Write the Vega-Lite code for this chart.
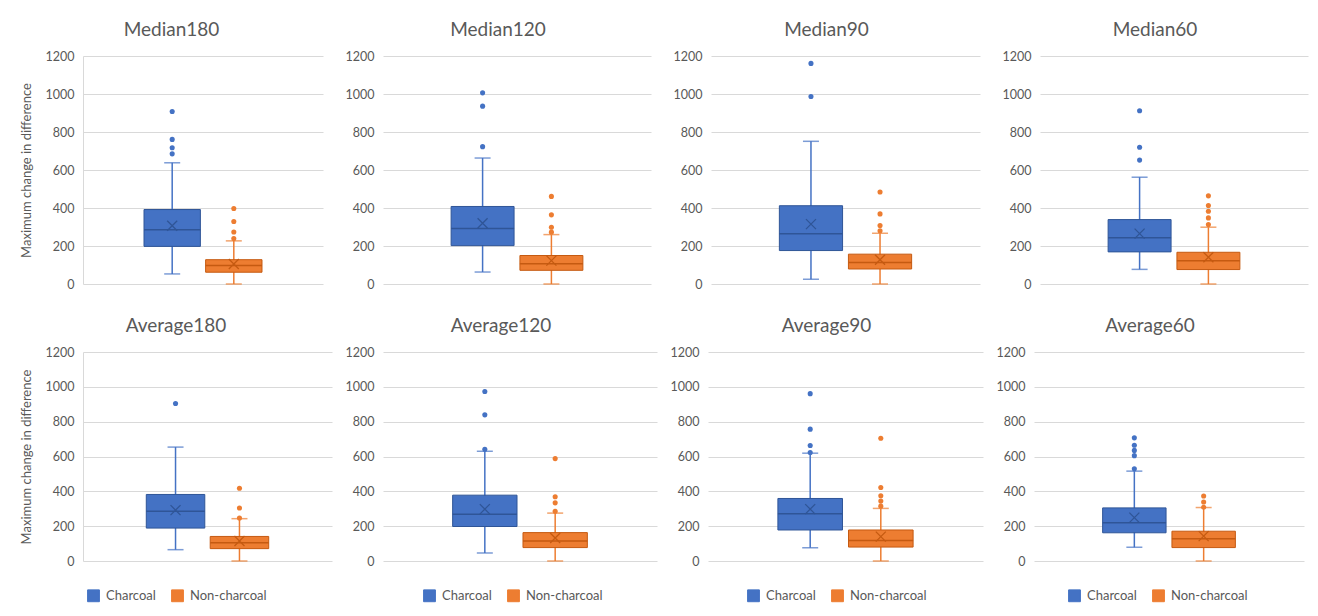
{
  "$schema": "https://vega.github.io/schema/vega-lite/v6.json",
  "background": "white",
  "padding": {"left": 20, "top": 21, "right": 5, "bottom": 5},
  "datasets": {
    "boxes": [
      {"panel": "Median180", "group": "Charcoal", "lower": 53, "q1": 198, "median": 286, "q3": 392, "upper": 638, "mean": 307},
      {"panel": "Median180", "group": "Non-charcoal", "lower": 0, "q1": 62, "median": 97, "q3": 128, "upper": 227, "mean": 105},
      {"panel": "Median120", "group": "Charcoal", "lower": 63, "q1": 202, "median": 292, "q3": 408, "upper": 663, "mean": 320},
      {"panel": "Median120", "group": "Non-charcoal", "lower": 0, "q1": 72, "median": 107, "q3": 150, "upper": 260, "mean": 123},
      {"panel": "Median90", "group": "Charcoal", "lower": 25, "q1": 176, "median": 264, "q3": 412, "upper": 751, "mean": 315},
      {"panel": "Median90", "group": "Non-charcoal", "lower": 0, "q1": 79, "median": 113, "q3": 157, "upper": 267, "mean": 128},
      {"panel": "Median60", "group": "Charcoal", "lower": 77, "q1": 169, "median": 244, "q3": 339, "upper": 562, "mean": 265},
      {"panel": "Median60", "group": "Non-charcoal", "lower": 0, "q1": 76, "median": 123, "q3": 167, "upper": 299, "mean": 141},
      {"panel": "Average180", "group": "Charcoal", "lower": 65, "q1": 189, "median": 285, "q3": 382, "upper": 654, "mean": 292},
      {"panel": "Average180", "group": "Non-charcoal", "lower": 0, "q1": 71, "median": 105, "q3": 141, "upper": 243, "mean": 115},
      {"panel": "Average120", "group": "Charcoal", "lower": 46, "q1": 198, "median": 269, "q3": 378, "upper": 630, "mean": 298},
      {"panel": "Average120", "group": "Non-charcoal", "lower": 0, "q1": 77, "median": 115, "q3": 163, "upper": 275, "mean": 132},
      {"panel": "Average90", "group": "Charcoal", "lower": 76, "q1": 178, "median": 271, "q3": 359, "upper": 619, "mean": 298},
      {"panel": "Average90", "group": "Non-charcoal", "lower": 0, "q1": 80, "median": 117, "q3": 178, "upper": 302, "mean": 140},
      {"panel": "Average60", "group": "Charcoal", "lower": 79, "q1": 162, "median": 220, "q3": 305, "upper": 516, "mean": 249},
      {"panel": "Average60", "group": "Non-charcoal", "lower": 0, "q1": 77, "median": 128, "q3": 171, "upper": 307, "mean": 143}
    ],
    "outliers": [
      {"panel": "Median180", "group": "Charcoal", "value": 908},
      {"panel": "Median180", "group": "Charcoal", "value": 761},
      {"panel": "Median180", "group": "Charcoal", "value": 717},
      {"panel": "Median180", "group": "Charcoal", "value": 685},
      {"panel": "Median180", "group": "Non-charcoal", "value": 397},
      {"panel": "Median180", "group": "Non-charcoal", "value": 329},
      {"panel": "Median180", "group": "Non-charcoal", "value": 274},
      {"panel": "Median180", "group": "Non-charcoal", "value": 239},
      {"panel": "Median120", "group": "Charcoal", "value": 1006},
      {"panel": "Median120", "group": "Charcoal", "value": 936},
      {"panel": "Median120", "group": "Charcoal", "value": 723},
      {"panel": "Median120", "group": "Non-charcoal", "value": 461},
      {"panel": "Median120", "group": "Non-charcoal", "value": 364},
      {"panel": "Median120", "group": "Non-charcoal", "value": 299},
      {"panel": "Median120", "group": "Non-charcoal", "value": 273},
      {"panel": "Median90", "group": "Charcoal", "value": 1161},
      {"panel": "Median90", "group": "Charcoal", "value": 987},
      {"panel": "Median90", "group": "Non-charcoal", "value": 484},
      {"panel": "Median90", "group": "Non-charcoal", "value": 369},
      {"panel": "Median90", "group": "Non-charcoal", "value": 308},
      {"panel": "Median90", "group": "Non-charcoal", "value": 280},
      {"panel": "Median60", "group": "Charcoal", "value": 912},
      {"panel": "Median60", "group": "Charcoal", "value": 720},
      {"panel": "Median60", "group": "Charcoal", "value": 652},
      {"panel": "Median60", "group": "Non-charcoal", "value": 464},
      {"panel": "Median60", "group": "Non-charcoal", "value": 413},
      {"panel": "Median60", "group": "Non-charcoal", "value": 383},
      {"panel": "Median60", "group": "Non-charcoal", "value": 348},
      {"panel": "Median60", "group": "Non-charcoal", "value": 313},
      {"panel": "Average180", "group": "Charcoal", "value": 904},
      {"panel": "Average180", "group": "Non-charcoal", "value": 418},
      {"panel": "Average180", "group": "Non-charcoal", "value": 304},
      {"panel": "Average180", "group": "Non-charcoal", "value": 247},
      {"panel": "Average120", "group": "Charcoal", "value": 973},
      {"panel": "Average120", "group": "Charcoal", "value": 839},
      {"panel": "Average120", "group": "Charcoal", "value": 641},
      {"panel": "Average120", "group": "Non-charcoal", "value": 588},
      {"panel": "Average120", "group": "Non-charcoal", "value": 369},
      {"panel": "Average120", "group": "Non-charcoal", "value": 334},
      {"panel": "Average120", "group": "Non-charcoal", "value": 286},
      {"panel": "Average90", "group": "Charcoal", "value": 961},
      {"panel": "Average90", "group": "Charcoal", "value": 757},
      {"panel": "Average90", "group": "Charcoal", "value": 663},
      {"panel": "Average90", "group": "Charcoal", "value": 623},
      {"panel": "Average90", "group": "Non-charcoal", "value": 705},
      {"panel": "Average90", "group": "Non-charcoal", "value": 422},
      {"panel": "Average90", "group": "Non-charcoal", "value": 375},
      {"panel": "Average90", "group": "Non-charcoal", "value": 344},
      {"panel": "Average90", "group": "Non-charcoal", "value": 315},
      {"panel": "Average60", "group": "Charcoal", "value": 707},
      {"panel": "Average60", "group": "Charcoal", "value": 665},
      {"panel": "Average60", "group": "Charcoal", "value": 635},
      {"panel": "Average60", "group": "Charcoal", "value": 605},
      {"panel": "Average60", "group": "Charcoal", "value": 529},
      {"panel": "Average60", "group": "Non-charcoal", "value": 373},
      {"panel": "Average60", "group": "Non-charcoal", "value": 339},
      {"panel": "Average60", "group": "Non-charcoal", "value": 309}
    ]
  },
  "resolve": {"scale": {"color": "independent", "fill": "independent", "stroke": "independent"}, "legend": {"color": "independent", "fill": "independent", "stroke": "independent"}},
  "spacing": 26,
  "vconcat": [
    {
      "spacing": 22,
      "resolve": {"scale": {"color": "independent", "fill": "independent", "stroke": "independent"}, "legend": {"color": "independent", "fill": "independent", "stroke": "independent"}},
      "hconcat": [
        {
          "width": 240, "height": 228, "title": "Median180",
          "encoding": {"x": {"field": "group", "type": "nominal", "scale": {"domain": ["Charcoal", "Non-charcoal"], "paddingInner": 0.085, "paddingOuter": 0.99}, "axis": null}},
          "layer": [
            {"data": {"name": "boxes"}, "transform": [{"filter": "datum.panel === 'Median180'"}],
             "layer": [
              {"mark": {"type": "rule", "strokeWidth": 1.5}, "encoding": {"y": {"field": "lower", "type": "quantitative", "scale": {"domain": [0, 1200], "nice": false}, "axis": {"title": "Maximum change in difference", "values": [0, 200, 400, 600, 800, 1000, 1200], "format": "d", "labelOverlap": false, "domain": true, "domainColor": "#D9D9D9"}}, "y2": {"field": "upper"}, "color": {"field": "group", "type": "nominal", "scale": {"domain": ["Charcoal", "Non-charcoal"], "range": ["#4472C4", "#ED7D31"]}, "legend": null}}},
              {"mark": {"type": "tick", "size": 16, "thickness": 1.5}, "encoding": {"y": {"field": "lower", "type": "quantitative", "axis": {"values": [0, 200, 400, 600, 800, 1000, 1200], "format": "d", "labelOverlap": false}}, "color": {"field": "group", "type": "nominal", "legend": null}}},
              {"mark": {"type": "tick", "size": 16, "thickness": 1.5}, "encoding": {"y": {"field": "upper", "type": "quantitative", "axis": {"values": [0, 200, 400, 600, 800, 1000, 1200], "format": "d", "labelOverlap": false}}, "color": {"field": "group", "type": "nominal", "legend": null}}},
              {"mark": {"type": "bar", "strokeWidth": 1}, "encoding": {"y": {"field": "q1", "type": "quantitative", "axis": {"values": [0, 200, 400, 600, 800, 1000, 1200], "format": "d", "labelOverlap": false}}, "y2": {"field": "q3"}, "fill": {"field": "group", "type": "nominal", "scale": {"domain": ["Charcoal", "Non-charcoal"], "range": ["#4472C4", "#ED7D31"]}, "legend": null}, "stroke": {"field": "group", "type": "nominal", "scale": {"domain": ["Charcoal", "Non-charcoal"], "range": ["#2F5597", "#C55A11"]}, "legend": null}}},
              {"mark": {"type": "bar", "strokeWidth": 1.5, "fill": "transparent"}, "encoding": {"y": {"field": "median", "type": "quantitative", "axis": {"values": [0, 200, 400, 600, 800, 1000, 1200], "format": "d", "labelOverlap": false}}, "y2": {"field": "median"}, "stroke": {"field": "group", "type": "nominal", "legend": null}}},
              {"mark": {"type": "point", "shape": "M-1,-1L1,1M-1,1L1,-1", "size": 100, "strokeWidth": 1.3, "filled": false, "opacity": 1}, "encoding": {"y": {"field": "mean", "type": "quantitative", "axis": {"values": [0, 200, 400, 600, 800, 1000, 1200], "format": "d", "labelOverlap": false}}, "stroke": {"field": "group", "type": "nominal", "legend": null}}}
             ]},
            {"data": {"name": "outliers"}, "transform": [{"filter": "datum.panel === 'Median180'"}], "mark": {"type": "circle", "size": 26, "opacity": 1}, "encoding": {"y": {"field": "value", "type": "quantitative", "axis": {"values": [0, 200, 400, 600, 800, 1000, 1200], "format": "d", "labelOverlap": false}}, "color": {"field": "group", "type": "nominal", "legend": null}}}
          ]
        },
        {
          "width": 268, "height": 228, "title": "Median120",
          "encoding": {"x": {"field": "group", "type": "nominal", "scale": {"domain": ["Charcoal", "Non-charcoal"], "paddingInner": 0.085, "paddingOuter": 0.99}, "axis": null}},
          "layer": [
            {"data": {"name": "boxes"}, "transform": [{"filter": "datum.panel === 'Median120'"}],
             "layer": [
              {"mark": {"type": "rule", "strokeWidth": 1.5}, "encoding": {"y": {"field": "lower", "type": "quantitative", "scale": {"domain": [0, 1200], "nice": false}, "axis": {"title": null, "values": [0, 200, 400, 600, 800, 1000, 1200], "format": "d", "labelOverlap": false}}, "y2": {"field": "upper"}, "color": {"field": "group", "type": "nominal", "scale": {"domain": ["Charcoal", "Non-charcoal"], "range": ["#4472C4", "#ED7D31"]}, "legend": null}}},
              {"mark": {"type": "tick", "size": 16, "thickness": 1.5}, "encoding": {"y": {"field": "lower", "type": "quantitative", "axis": {"values": [0, 200, 400, 600, 800, 1000, 1200], "format": "d", "labelOverlap": false}}, "color": {"field": "group", "type": "nominal", "legend": null}}},
              {"mark": {"type": "tick", "size": 16, "thickness": 1.5}, "encoding": {"y": {"field": "upper", "type": "quantitative", "axis": {"values": [0, 200, 400, 600, 800, 1000, 1200], "format": "d", "labelOverlap": false}}, "color": {"field": "group", "type": "nominal", "legend": null}}},
              {"mark": {"type": "bar", "strokeWidth": 1}, "encoding": {"y": {"field": "q1", "type": "quantitative", "axis": {"values": [0, 200, 400, 600, 800, 1000, 1200], "format": "d", "labelOverlap": false}}, "y2": {"field": "q3"}, "fill": {"field": "group", "type": "nominal", "scale": {"domain": ["Charcoal", "Non-charcoal"], "range": ["#4472C4", "#ED7D31"]}, "legend": null}, "stroke": {"field": "group", "type": "nominal", "scale": {"domain": ["Charcoal", "Non-charcoal"], "range": ["#2F5597", "#C55A11"]}, "legend": null}}},
              {"mark": {"type": "bar", "strokeWidth": 1.5, "fill": "transparent"}, "encoding": {"y": {"field": "median", "type": "quantitative", "axis": {"values": [0, 200, 400, 600, 800, 1000, 1200], "format": "d", "labelOverlap": false}}, "y2": {"field": "median"}, "stroke": {"field": "group", "type": "nominal", "legend": null}}},
              {"mark": {"type": "point", "shape": "M-1,-1L1,1M-1,1L1,-1", "size": 100, "strokeWidth": 1.3, "filled": false, "opacity": 1}, "encoding": {"y": {"field": "mean", "type": "quantitative", "axis": {"values": [0, 200, 400, 600, 800, 1000, 1200], "format": "d", "labelOverlap": false}}, "stroke": {"field": "group", "type": "nominal", "legend": null}}}
             ]},
            {"data": {"name": "outliers"}, "transform": [{"filter": "datum.panel === 'Median120'"}], "mark": {"type": "circle", "size": 26, "opacity": 1}, "encoding": {"y": {"field": "value", "type": "quantitative", "axis": {"values": [0, 200, 400, 600, 800, 1000, 1200], "format": "d", "labelOverlap": false}}, "color": {"field": "group", "type": "nominal", "legend": null}}}
          ]
        },
        {
          "width": 269, "height": 228, "title": "Median90",
          "encoding": {"x": {"field": "group", "type": "nominal", "scale": {"domain": ["Charcoal", "Non-charcoal"], "paddingInner": 0.085, "paddingOuter": 0.99}, "axis": null}},
          "layer": [
            {"data": {"name": "boxes"}, "transform": [{"filter": "datum.panel === 'Median90'"}],
             "layer": [
              {"mark": {"type": "rule", "strokeWidth": 1.5}, "encoding": {"y": {"field": "lower", "type": "quantitative", "scale": {"domain": [0, 1200], "nice": false}, "axis": {"title": null, "values": [0, 200, 400, 600, 800, 1000, 1200], "format": "d", "labelOverlap": false}}, "y2": {"field": "upper"}, "color": {"field": "group", "type": "nominal", "scale": {"domain": ["Charcoal", "Non-charcoal"], "range": ["#4472C4", "#ED7D31"]}, "legend": null}}},
              {"mark": {"type": "tick", "size": 16, "thickness": 1.5}, "encoding": {"y": {"field": "lower", "type": "quantitative", "axis": {"values": [0, 200, 400, 600, 800, 1000, 1200], "format": "d", "labelOverlap": false}}, "color": {"field": "group", "type": "nominal", "legend": null}}},
              {"mark": {"type": "tick", "size": 16, "thickness": 1.5}, "encoding": {"y": {"field": "upper", "type": "quantitative", "axis": {"values": [0, 200, 400, 600, 800, 1000, 1200], "format": "d", "labelOverlap": false}}, "color": {"field": "group", "type": "nominal", "legend": null}}},
              {"mark": {"type": "bar", "strokeWidth": 1}, "encoding": {"y": {"field": "q1", "type": "quantitative", "axis": {"values": [0, 200, 400, 600, 800, 1000, 1200], "format": "d", "labelOverlap": false}}, "y2": {"field": "q3"}, "fill": {"field": "group", "type": "nominal", "scale": {"domain": ["Charcoal", "Non-charcoal"], "range": ["#4472C4", "#ED7D31"]}, "legend": null}, "stroke": {"field": "group", "type": "nominal", "scale": {"domain": ["Charcoal", "Non-charcoal"], "range": ["#2F5597", "#C55A11"]}, "legend": null}}},
              {"mark": {"type": "bar", "strokeWidth": 1.5, "fill": "transparent"}, "encoding": {"y": {"field": "median", "type": "quantitative", "axis": {"values": [0, 200, 400, 600, 800, 1000, 1200], "format": "d", "labelOverlap": false}}, "y2": {"field": "median"}, "stroke": {"field": "group", "type": "nominal", "legend": null}}},
              {"mark": {"type": "point", "shape": "M-1,-1L1,1M-1,1L1,-1", "size": 100, "strokeWidth": 1.3, "filled": false, "opacity": 1}, "encoding": {"y": {"field": "mean", "type": "quantitative", "axis": {"values": [0, 200, 400, 600, 800, 1000, 1200], "format": "d", "labelOverlap": false}}, "stroke": {"field": "group", "type": "nominal", "legend": null}}}
             ]},
            {"data": {"name": "outliers"}, "transform": [{"filter": "datum.panel === 'Median90'"}], "mark": {"type": "circle", "size": 26, "opacity": 1}, "encoding": {"y": {"field": "value", "type": "quantitative", "axis": {"values": [0, 200, 400, 600, 800, 1000, 1200], "format": "d", "labelOverlap": false}}, "color": {"field": "group", "type": "nominal", "legend": null}}}
          ]
        },
        {
          "width": 268, "height": 228, "title": "Median60",
          "encoding": {"x": {"field": "group", "type": "nominal", "scale": {"domain": ["Charcoal", "Non-charcoal"], "paddingInner": 0.085, "paddingOuter": 0.99}, "axis": null}},
          "layer": [
            {"data": {"name": "boxes"}, "transform": [{"filter": "datum.panel === 'Median60'"}],
             "layer": [
              {"mark": {"type": "rule", "strokeWidth": 1.5}, "encoding": {"y": {"field": "lower", "type": "quantitative", "scale": {"domain": [0, 1200], "nice": false}, "axis": {"title": null, "values": [0, 200, 400, 600, 800, 1000, 1200], "format": "d", "labelOverlap": false}}, "y2": {"field": "upper"}, "color": {"field": "group", "type": "nominal", "scale": {"domain": ["Charcoal", "Non-charcoal"], "range": ["#4472C4", "#ED7D31"]}, "legend": null}}},
              {"mark": {"type": "tick", "size": 16, "thickness": 1.5}, "encoding": {"y": {"field": "lower", "type": "quantitative", "axis": {"values": [0, 200, 400, 600, 800, 1000, 1200], "format": "d", "labelOverlap": false}}, "color": {"field": "group", "type": "nominal", "legend": null}}},
              {"mark": {"type": "tick", "size": 16, "thickness": 1.5}, "encoding": {"y": {"field": "upper", "type": "quantitative", "axis": {"values": [0, 200, 400, 600, 800, 1000, 1200], "format": "d", "labelOverlap": false}}, "color": {"field": "group", "type": "nominal", "legend": null}}},
              {"mark": {"type": "bar", "strokeWidth": 1}, "encoding": {"y": {"field": "q1", "type": "quantitative", "axis": {"values": [0, 200, 400, 600, 800, 1000, 1200], "format": "d", "labelOverlap": false}}, "y2": {"field": "q3"}, "fill": {"field": "group", "type": "nominal", "scale": {"domain": ["Charcoal", "Non-charcoal"], "range": ["#4472C4", "#ED7D31"]}, "legend": null}, "stroke": {"field": "group", "type": "nominal", "scale": {"domain": ["Charcoal", "Non-charcoal"], "range": ["#2F5597", "#C55A11"]}, "legend": null}}},
              {"mark": {"type": "bar", "strokeWidth": 1.5, "fill": "transparent"}, "encoding": {"y": {"field": "median", "type": "quantitative", "axis": {"values": [0, 200, 400, 600, 800, 1000, 1200], "format": "d", "labelOverlap": false}}, "y2": {"field": "median"}, "stroke": {"field": "group", "type": "nominal", "legend": null}}},
              {"mark": {"type": "point", "shape": "M-1,-1L1,1M-1,1L1,-1", "size": 100, "strokeWidth": 1.3, "filled": false, "opacity": 1}, "encoding": {"y": {"field": "mean", "type": "quantitative", "axis": {"values": [0, 200, 400, 600, 800, 1000, 1200], "format": "d", "labelOverlap": false}}, "stroke": {"field": "group", "type": "nominal", "legend": null}}}
             ]},
            {"data": {"name": "outliers"}, "transform": [{"filter": "datum.panel === 'Median60'"}], "mark": {"type": "circle", "size": 26, "opacity": 1}, "encoding": {"y": {"field": "value", "type": "quantitative", "axis": {"values": [0, 200, 400, 600, 800, 1000, 1200], "format": "d", "labelOverlap": false}}, "color": {"field": "group", "type": "nominal", "legend": null}}}
          ]
        }
      ]
    },
    {
      "spacing": 13,
      "resolve": {"scale": {"color": "independent", "fill": "independent", "stroke": "independent"}, "legend": {"color": "independent", "fill": "independent", "stroke": "independent"}},
      "hconcat": [
        {
          "width": 249, "height": 209, "title": "Average180",
          "encoding": {"x": {"field": "group", "type": "nominal", "scale": {"domain": ["Charcoal", "Non-charcoal"], "paddingInner": 0.085, "paddingOuter": 0.99}, "axis": null}},
          "layer": [
            {"data": {"name": "boxes"}, "transform": [{"filter": "datum.panel === 'Average180'"}],
             "layer": [
              {"mark": {"type": "rule", "strokeWidth": 1.5}, "encoding": {"y": {"field": "lower", "type": "quantitative", "scale": {"domain": [0, 1200], "nice": false}, "axis": {"title": "Maximum change in difference", "values": [0, 200, 400, 600, 800, 1000, 1200], "format": "d", "labelOverlap": false, "domain": true, "domainColor": "#D9D9D9"}}, "y2": {"field": "upper"}, "color": {"field": "group", "type": "nominal", "scale": {"domain": ["Charcoal", "Non-charcoal"], "range": ["#4472C4", "#ED7D31"]}, "legend": {"title": null, "legendX": 4}}}},
              {"mark": {"type": "tick", "size": 16, "thickness": 1.5}, "encoding": {"y": {"field": "lower", "type": "quantitative", "axis": {"values": [0, 200, 400, 600, 800, 1000, 1200], "format": "d", "labelOverlap": false}}, "color": {"field": "group", "type": "nominal", "legend": {"title": null, "legendX": 4}}}},
              {"mark": {"type": "tick", "size": 16, "thickness": 1.5}, "encoding": {"y": {"field": "upper", "type": "quantitative", "axis": {"values": [0, 200, 400, 600, 800, 1000, 1200], "format": "d", "labelOverlap": false}}, "color": {"field": "group", "type": "nominal", "legend": {"title": null, "legendX": 4}}}},
              {"mark": {"type": "bar", "strokeWidth": 1}, "encoding": {"y": {"field": "q1", "type": "quantitative", "axis": {"values": [0, 200, 400, 600, 800, 1000, 1200], "format": "d", "labelOverlap": false}}, "y2": {"field": "q3"}, "fill": {"field": "group", "type": "nominal", "scale": {"domain": ["Charcoal", "Non-charcoal"], "range": ["#4472C4", "#ED7D31"]}, "legend": {"title": null, "legendX": 4}}, "stroke": {"field": "group", "type": "nominal", "scale": {"domain": ["Charcoal", "Non-charcoal"], "range": ["#2F5597", "#C55A11"]}, "legend": {"title": null, "legendX": 4}}}},
              {"mark": {"type": "bar", "strokeWidth": 1.5, "fill": "transparent"}, "encoding": {"y": {"field": "median", "type": "quantitative", "axis": {"values": [0, 200, 400, 600, 800, 1000, 1200], "format": "d", "labelOverlap": false}}, "y2": {"field": "median"}, "stroke": {"field": "group", "type": "nominal", "legend": {"title": null, "legendX": 4}}}},
              {"mark": {"type": "point", "shape": "M-1,-1L1,1M-1,1L1,-1", "size": 100, "strokeWidth": 1.3, "filled": false, "opacity": 1}, "encoding": {"y": {"field": "mean", "type": "quantitative", "axis": {"values": [0, 200, 400, 600, 800, 1000, 1200], "format": "d", "labelOverlap": false}}, "stroke": {"field": "group", "type": "nominal", "legend": {"title": null, "legendX": 4}}}}
             ]},
            {"data": {"name": "outliers"}, "transform": [{"filter": "datum.panel === 'Average180'"}], "mark": {"type": "circle", "size": 26, "opacity": 1}, "encoding": {"y": {"field": "value", "type": "quantitative", "axis": {"values": [0, 200, 400, 600, 800, 1000, 1200], "format": "d", "labelOverlap": false}}, "color": {"field": "group", "type": "nominal", "legend": {"title": null, "legendX": 4}}}}
          ]
        },
        {
          "width": 274, "height": 209, "title": "Average120",
          "encoding": {"x": {"field": "group", "type": "nominal", "scale": {"domain": ["Charcoal", "Non-charcoal"], "paddingInner": 0.085, "paddingOuter": 0.99}, "axis": null}},
          "layer": [
            {"data": {"name": "boxes"}, "transform": [{"filter": "datum.panel === 'Average120'"}],
             "layer": [
              {"mark": {"type": "rule", "strokeWidth": 1.5}, "encoding": {"y": {"field": "lower", "type": "quantitative", "scale": {"domain": [0, 1200], "nice": false}, "axis": {"title": null, "values": [0, 200, 400, 600, 800, 1000, 1200], "format": "d", "labelOverlap": false}}, "y2": {"field": "upper"}, "color": {"field": "group", "type": "nominal", "scale": {"domain": ["Charcoal", "Non-charcoal"], "range": ["#4472C4", "#ED7D31"]}, "legend": {"title": null, "legendX": 40}}}},
              {"mark": {"type": "tick", "size": 16, "thickness": 1.5}, "encoding": {"y": {"field": "lower", "type": "quantitative", "axis": {"values": [0, 200, 400, 600, 800, 1000, 1200], "format": "d", "labelOverlap": false}}, "color": {"field": "group", "type": "nominal", "legend": {"title": null, "legendX": 40}}}},
              {"mark": {"type": "tick", "size": 16, "thickness": 1.5}, "encoding": {"y": {"field": "upper", "type": "quantitative", "axis": {"values": [0, 200, 400, 600, 800, 1000, 1200], "format": "d", "labelOverlap": false}}, "color": {"field": "group", "type": "nominal", "legend": {"title": null, "legendX": 40}}}},
              {"mark": {"type": "bar", "strokeWidth": 1}, "encoding": {"y": {"field": "q1", "type": "quantitative", "axis": {"values": [0, 200, 400, 600, 800, 1000, 1200], "format": "d", "labelOverlap": false}}, "y2": {"field": "q3"}, "fill": {"field": "group", "type": "nominal", "scale": {"domain": ["Charcoal", "Non-charcoal"], "range": ["#4472C4", "#ED7D31"]}, "legend": {"title": null, "legendX": 40}}, "stroke": {"field": "group", "type": "nominal", "scale": {"domain": ["Charcoal", "Non-charcoal"], "range": ["#2F5597", "#C55A11"]}, "legend": {"title": null, "legendX": 40}}}},
              {"mark": {"type": "bar", "strokeWidth": 1.5, "fill": "transparent"}, "encoding": {"y": {"field": "median", "type": "quantitative", "axis": {"values": [0, 200, 400, 600, 800, 1000, 1200], "format": "d", "labelOverlap": false}}, "y2": {"field": "median"}, "stroke": {"field": "group", "type": "nominal", "legend": {"title": null, "legendX": 40}}}},
              {"mark": {"type": "point", "shape": "M-1,-1L1,1M-1,1L1,-1", "size": 100, "strokeWidth": 1.3, "filled": false, "opacity": 1}, "encoding": {"y": {"field": "mean", "type": "quantitative", "axis": {"values": [0, 200, 400, 600, 800, 1000, 1200], "format": "d", "labelOverlap": false}}, "stroke": {"field": "group", "type": "nominal", "legend": {"title": null, "legendX": 40}}}}
             ]},
            {"data": {"name": "outliers"}, "transform": [{"filter": "datum.panel === 'Average120'"}], "mark": {"type": "circle", "size": 26, "opacity": 1}, "encoding": {"y": {"field": "value", "type": "quantitative", "axis": {"values": [0, 200, 400, 600, 800, 1000, 1200], "format": "d", "labelOverlap": false}}, "color": {"field": "group", "type": "nominal", "legend": {"title": null, "legendX": 40}}}}
          ]
        },
        {
          "width": 275, "height": 209, "title": "Average90",
          "encoding": {"x": {"field": "group", "type": "nominal", "scale": {"domain": ["Charcoal", "Non-charcoal"], "paddingInner": 0.085, "paddingOuter": 0.99}, "axis": null}},
          "layer": [
            {"data": {"name": "boxes"}, "transform": [{"filter": "datum.panel === 'Average90'"}],
             "layer": [
              {"mark": {"type": "rule", "strokeWidth": 1.5}, "encoding": {"y": {"field": "lower", "type": "quantitative", "scale": {"domain": [0, 1200], "nice": false}, "axis": {"title": null, "values": [0, 200, 400, 600, 800, 1000, 1200], "format": "d", "labelOverlap": false}}, "y2": {"field": "upper"}, "color": {"field": "group", "type": "nominal", "scale": {"domain": ["Charcoal", "Non-charcoal"], "range": ["#4472C4", "#ED7D31"]}, "legend": {"title": null, "legendX": 39}}}},
              {"mark": {"type": "tick", "size": 16, "thickness": 1.5}, "encoding": {"y": {"field": "lower", "type": "quantitative", "axis": {"values": [0, 200, 400, 600, 800, 1000, 1200], "format": "d", "labelOverlap": false}}, "color": {"field": "group", "type": "nominal", "legend": {"title": null, "legendX": 39}}}},
              {"mark": {"type": "tick", "size": 16, "thickness": 1.5}, "encoding": {"y": {"field": "upper", "type": "quantitative", "axis": {"values": [0, 200, 400, 600, 800, 1000, 1200], "format": "d", "labelOverlap": false}}, "color": {"field": "group", "type": "nominal", "legend": {"title": null, "legendX": 39}}}},
              {"mark": {"type": "bar", "strokeWidth": 1}, "encoding": {"y": {"field": "q1", "type": "quantitative", "axis": {"values": [0, 200, 400, 600, 800, 1000, 1200], "format": "d", "labelOverlap": false}}, "y2": {"field": "q3"}, "fill": {"field": "group", "type": "nominal", "scale": {"domain": ["Charcoal", "Non-charcoal"], "range": ["#4472C4", "#ED7D31"]}, "legend": {"title": null, "legendX": 39}}, "stroke": {"field": "group", "type": "nominal", "scale": {"domain": ["Charcoal", "Non-charcoal"], "range": ["#2F5597", "#C55A11"]}, "legend": {"title": null, "legendX": 39}}}},
              {"mark": {"type": "bar", "strokeWidth": 1.5, "fill": "transparent"}, "encoding": {"y": {"field": "median", "type": "quantitative", "axis": {"values": [0, 200, 400, 600, 800, 1000, 1200], "format": "d", "labelOverlap": false}}, "y2": {"field": "median"}, "stroke": {"field": "group", "type": "nominal", "legend": {"title": null, "legendX": 39}}}},
              {"mark": {"type": "point", "shape": "M-1,-1L1,1M-1,1L1,-1", "size": 100, "strokeWidth": 1.3, "filled": false, "opacity": 1}, "encoding": {"y": {"field": "mean", "type": "quantitative", "axis": {"values": [0, 200, 400, 600, 800, 1000, 1200], "format": "d", "labelOverlap": false}}, "stroke": {"field": "group", "type": "nominal", "legend": {"title": null, "legendX": 39}}}}
             ]},
            {"data": {"name": "outliers"}, "transform": [{"filter": "datum.panel === 'Average90'"}], "mark": {"type": "circle", "size": 26, "opacity": 1}, "encoding": {"y": {"field": "value", "type": "quantitative", "axis": {"values": [0, 200, 400, 600, 800, 1000, 1200], "format": "d", "labelOverlap": false}}, "color": {"field": "group", "type": "nominal", "legend": {"title": null, "legendX": 39}}}}
          ]
        },
        {
          "width": 270, "height": 209, "title": "Average60",
          "encoding": {"x": {"field": "group", "type": "nominal", "scale": {"domain": ["Charcoal", "Non-charcoal"], "paddingInner": 0.085, "paddingOuter": 0.99}, "axis": null}},
          "layer": [
            {"data": {"name": "boxes"}, "transform": [{"filter": "datum.panel === 'Average60'"}],
             "layer": [
              {"mark": {"type": "rule", "strokeWidth": 1.5}, "encoding": {"y": {"field": "lower", "type": "quantitative", "scale": {"domain": [0, 1200], "nice": false}, "axis": {"title": null, "values": [0, 200, 400, 600, 800, 1000, 1200], "format": "d", "labelOverlap": false}}, "y2": {"field": "upper"}, "color": {"field": "group", "type": "nominal", "scale": {"domain": ["Charcoal", "Non-charcoal"], "range": ["#4472C4", "#ED7D31"]}, "legend": {"title": null, "legendX": 34}}}},
              {"mark": {"type": "tick", "size": 16, "thickness": 1.5}, "encoding": {"y": {"field": "lower", "type": "quantitative", "axis": {"values": [0, 200, 400, 600, 800, 1000, 1200], "format": "d", "labelOverlap": false}}, "color": {"field": "group", "type": "nominal", "legend": {"title": null, "legendX": 34}}}},
              {"mark": {"type": "tick", "size": 16, "thickness": 1.5}, "encoding": {"y": {"field": "upper", "type": "quantitative", "axis": {"values": [0, 200, 400, 600, 800, 1000, 1200], "format": "d", "labelOverlap": false}}, "color": {"field": "group", "type": "nominal", "legend": {"title": null, "legendX": 34}}}},
              {"mark": {"type": "bar", "strokeWidth": 1}, "encoding": {"y": {"field": "q1", "type": "quantitative", "axis": {"values": [0, 200, 400, 600, 800, 1000, 1200], "format": "d", "labelOverlap": false}}, "y2": {"field": "q3"}, "fill": {"field": "group", "type": "nominal", "scale": {"domain": ["Charcoal", "Non-charcoal"], "range": ["#4472C4", "#ED7D31"]}, "legend": {"title": null, "legendX": 34}}, "stroke": {"field": "group", "type": "nominal", "scale": {"domain": ["Charcoal", "Non-charcoal"], "range": ["#2F5597", "#C55A11"]}, "legend": {"title": null, "legendX": 34}}}},
              {"mark": {"type": "bar", "strokeWidth": 1.5, "fill": "transparent"}, "encoding": {"y": {"field": "median", "type": "quantitative", "axis": {"values": [0, 200, 400, 600, 800, 1000, 1200], "format": "d", "labelOverlap": false}}, "y2": {"field": "median"}, "stroke": {"field": "group", "type": "nominal", "legend": {"title": null, "legendX": 34}}}},
              {"mark": {"type": "point", "shape": "M-1,-1L1,1M-1,1L1,-1", "size": 100, "strokeWidth": 1.3, "filled": false, "opacity": 1}, "encoding": {"y": {"field": "mean", "type": "quantitative", "axis": {"values": [0, 200, 400, 600, 800, 1000, 1200], "format": "d", "labelOverlap": false}}, "stroke": {"field": "group", "type": "nominal", "legend": {"title": null, "legendX": 34}}}}
             ]},
            {"data": {"name": "outliers"}, "transform": [{"filter": "datum.panel === 'Average60'"}], "mark": {"type": "circle", "size": 26, "opacity": 1}, "encoding": {"y": {"field": "value", "type": "quantitative", "axis": {"values": [0, 200, 400, 600, 800, 1000, 1200], "format": "d", "labelOverlap": false}}, "color": {"field": "group", "type": "nominal", "legend": {"title": null, "legendX": 34}}}}
          ]
        }
      ]
    }
  ],
  "config": {
    "font": "Lato",
    "view": {"stroke": null},
    "title": {"fontSize": 19, "fontWeight": "normal", "color": "#595959", "offset": 10, "anchor": "middle", "frame": "bounds"},
    "axisY": {"grid": true, "gridColor": "#D9D9D9", "gridWidth": 1, "domain": false, "ticks": false, "tickSize": 0, "labelPadding": 9, "labelColor": "#595959", "labelFontSize": 12.5, "titleColor": "#595959", "titleFontSize": 13, "titleFontWeight": "normal", "titlePadding": 12},
    "legend": {"orient": "none", "legendY": 237, "direction": "horizontal", "symbolType": "square", "symbolSize": 140, "symbolStrokeWidth": 1, "symbolOpacity": 1, "labelFontSize": 13, "labelColor": "#595959", "columnPadding": 13, "labelOffset": 6}
  }
}
